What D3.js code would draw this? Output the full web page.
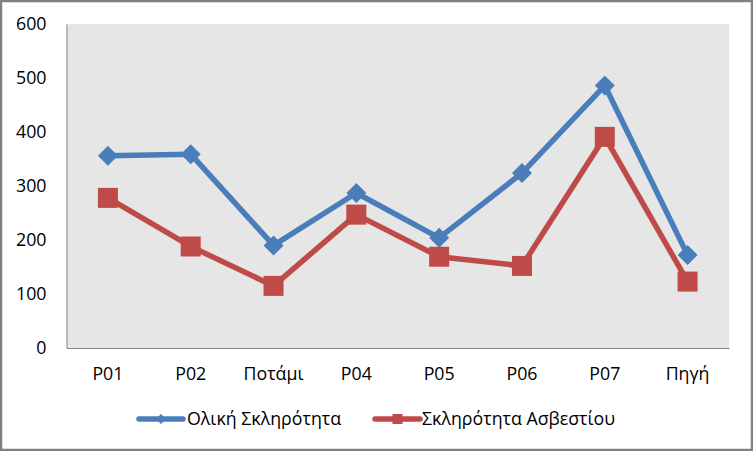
<!DOCTYPE html>
<html><head><meta charset="utf-8">
<script src="https://cdn.jsdelivr.net/npm/d3@7"></script>
<style>
html,body{margin:0;padding:0;background:#fff;}
svg{display:block;}
text{font-family:"Open Sans","Noto Sans",sans-serif;fill:#000;}
</style></head>
<body>
<svg id="chart" width="753" height="451"></svg>
<script>
const categories = ["P01","P02","Ποτάμι","P04","P05","P06","P07","Πηγή"];
const totalHardness = [356,359,190,287,204,324,486,172];
const calciumHardness = [278,188,115,247,169,152,391,123];
const seriesNames = ["Ολική Σκληρότητα","Σκληρότητα Ασβεστίου"];
const yTicks = [0,100,200,300,400,500,600];

const W = 753, H = 451;
const FS = 17.8;
const svg = d3.select("#chart");
const m = {left:66.5, top:24, right:729, bottom:348};

// outer frame
svg.append("rect").attr("x",1).attr("y",1).attr("width",W-2).attr("height",H-2)
  .attr("fill","#fff").attr("stroke","#808080").attr("stroke-width",2.5);

// plot area
svg.append("rect").attr("x",m.left).attr("y",m.top)
  .attr("width",m.right-m.left).attr("height",m.bottom-m.top).attr("fill","#E6E6E6");

const x = d3.scaleBand().domain(categories).range([m.left,m.right]);
const y = d3.scaleLinear().domain([0,600]).range([m.bottom,m.top]);

// axes
const yAxis = svg.append("g").attr("transform",`translate(${m.left},0)`)
  .call(d3.axisLeft(y).tickValues(yTicks).tickSize(0).tickPadding(20));
yAxis.select(".domain").attr("stroke","#868686").attr("stroke-width",1);
yAxis.selectAll("text").attr("font-size",FS).attr("font-family",'"Open Sans",sans-serif');

const xAxis = svg.append("g").attr("transform",`translate(0,${m.bottom})`)
  .call(d3.axisBottom(x).tickSize(0).tickPadding(19));
xAxis.select(".domain").attr("stroke","#868686").attr("stroke-width",1);
xAxis.selectAll("text").attr("font-size",FS).attr("font-family",'"Open Sans",sans-serif');

const cx = c => x(c) + x.bandwidth()/2;
const series = [
  {name:seriesNames[0], values:totalHardness, color:"#4A7EBB", shape:"diamond"},
  {name:seriesNames[1], values:calciumHardness, color:"#BE4B48", shape:"square"}
];
const line = d3.line().x((d,i)=>cx(categories[i])).y(d=>y(d));

series.forEach(s=>{
  svg.append("path").datum(s.values).attr("d",line)
    .attr("fill","none").attr("stroke",s.color).attr("stroke-width",5.5)
    .attr("stroke-linejoin","round").attr("stroke-linecap","round");
});
series.forEach(s=>{
  const g = svg.append("g");
  if(s.shape==="diamond"){
    g.selectAll("path").data(s.values).join("path")
      .attr("d",(d,i)=>{const X=cx(categories[i]),Y=y(d),r=10;return `M${X},${Y-r}L${X+r},${Y}L${X},${Y+r}L${X-r},${Y}Z`;})
      .attr("fill",s.color);
  } else {
    g.selectAll("rect").data(s.values).join("rect")
      .attr("x",(d,i)=>cx(categories[i])-10).attr("y",d=>y(d)-10)
      .attr("width",20).attr("height",20).attr("fill",s.color);
  }
});

// legend
const legend = [
  {x1:139,x2:183,tx:187},
  {x1:375,x2:420,tx:422}
];
series.forEach((s,i)=>{
  const L = legend[i], ly = 419;
  svg.append("line").attr("x1",L.x1).attr("x2",L.x2).attr("y1",ly).attr("y2",ly)
    .attr("stroke",s.color).attr("stroke-width",5.5).attr("stroke-linecap","round");
  const mx=(L.x1+L.x2)/2;
  if(s.shape==="diamond"){
    svg.append("path").attr("d",`M${mx},${ly-5}L${mx+5},${ly}L${mx},${ly+5}L${mx-5},${ly}Z`).attr("fill",s.color);
  } else {
    svg.append("rect").attr("x",mx-5).attr("y",ly-5).attr("width",10).attr("height",10).attr("fill",s.color);
  }
  svg.append("text").attr("x",L.tx).attr("y",ly).attr("dy","0.35em")
    .attr("font-size",FS).text(s.name);
});
</script>
</body></html>
